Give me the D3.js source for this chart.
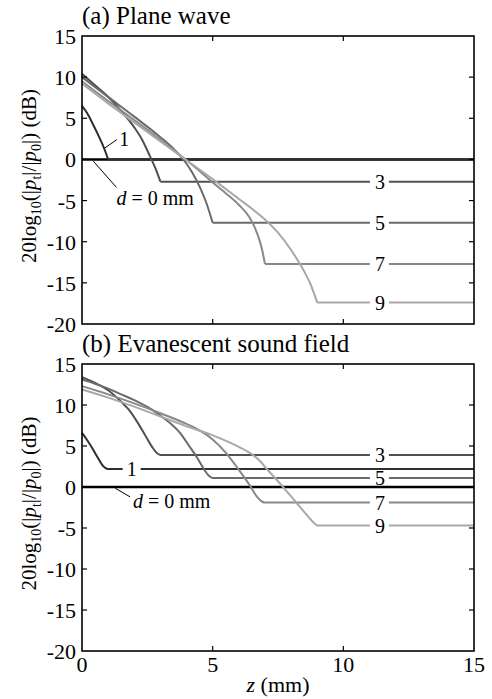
<!DOCTYPE html>
<html><head><meta charset="utf-8">
<script src="https://cdn.jsdelivr.net/npm/d3@7"></script>
<style>
html,body{margin:0;padding:0;background:#fff;}
</style></head>
<body><svg id="c" width="492" height="699" font-family="'Liberation Serif', 'Times New Roman', 'DejaVu Serif', serif"></svg>
<script>
// ---------- data ----------
const zTicks = [0, 5, 10, 15];
const yTicks = [-20, -15, -10, -5, 0, 5, 10, 15];
const depths = [0, 1, 3, 5, 7, 9];
const lineColors = ["#000000", "#2e2e2e", "#505050", "#6a6a6a", "#888888", "#a8a8a8"];

// (a) Plane wave: [z (mm), level (dB)] up to z = d; level stays flat afterwards
const planeD0 = [[0, 0]];
const planeD1 = [[0, 6.5], [0.2, 5.6], [0.4, 4.4], [0.6, 3.1], [0.8, 1.7], [0.9, 0.9], [1.0, 0]];
const planeD3 = [[0, 10.4], [0.5, 9.0], [1.0, 7.6], [1.5, 5.9], [2.0, 3.9], [2.3, 2.4], [2.6, 0.4], [2.8, -1.0], [3.0, -2.7]];
const planeD5 = [[0, 10.0], [1, 7.6], [2, 5.2], [3, 2.7], [3.5, 1.3], [3.9, -0.1], [4.2, -1.5], [4.5, -3.3], [4.75, -5.2], [5.0, -7.7]];
const planeD7 = [[0, 9.5], [1, 7.1], [2, 4.8], [3, 2.4], [4, -0.1], [4.5, -1.4], [5, -2.8], [5.5, -4.1], [6.0, -5.5], [6.4, -7.0], [6.6, -8.2], [6.8, -9.9], [6.9, -11.1], [7.0, -12.7]];
const planeD9 = [[0, 9.2], [1, 6.8], [2, 4.5], [3, 2.2], [4, -0.1], [5, -2.4], [6, -4.8], [6.5, -6.0], [7, -7.3], [7.5, -8.9], [8, -11.0], [8.5, -13.6], [8.75, -15.2], [9.0, -17.4]];

// (b) Evanescent sound field
const evanD0 = [[0, 0]];
const evanD1 = [[0, 6.6], [0.2, 5.7], [0.4, 4.7], [0.6, 3.6], [0.75, 2.8], [0.9, 2.3], [1.0, 2.2]];
const evanD3 = [[0, 13.4], [0.5, 12.7], [1.0, 11.8], [1.5, 10.4], [1.8, 9.4], [2.1, 8.0], [2.4, 6.4], [2.7, 4.8], [2.9, 4.05], [3.0, 3.9]];
const evanD5 = [[0, 13.1], [0.5, 12.6], [1, 12.0], [1.5, 11.3], [2, 10.6], [2.6, 9.6], [3, 8.7], [3.4, 7.7], [3.75, 6.6], [4.1, 5.0], [4.4, 3.6], [4.7, 2.0], [4.9, 1.25], [5.0, 1.1]];
const evanD7 = [[0, 12.3], [1, 11.3], [2, 10.2], [3, 9.0], [4, 7.7], [4.5, 6.9], [5, 5.8], [5.5, 4.2], [6, 2.1], [6.4, 0.3], [6.7, -1.2], [6.9, -1.8], [7.0, -1.9]];
const evanD9 = [[0, 11.9], [1, 10.9], [2, 9.8], [3, 8.6], [4, 7.4], [5, 6.3], [6, 4.9], [6.5, 4.0], [6.8, 3.2], [7.1, 2.1], [7.5, 0.7], [7.8, -0.4], [8.2, -1.9], [8.6, -3.4], [8.85, -4.3], [9.0, -4.7]];

const panels = [
  {title: "(a) Plane wave", curves: [planeD0, planeD1, planeD3, planeD5, planeD7, planeD9], top: 36, bottom: 324, xLabels: false, evanescent: false},
  {title: "(b) Evanescent sound field", curves: [evanD0, evanD1, evanD3, evanD5, evanD7, evanD9], top: 364, bottom: 651, xLabels: true, evanescent: true}
];

// ---------- drawing ----------
const svg = d3.select("#c");
const FONT = "'Liberation Serif', 'Times New Roman', 'DejaVu Serif', serif";
const x = d3.scaleLinear().domain([0, 15]).range([82, 474]);
const labelZ = 11.4;

function txt(g, size) {
  return g.append("text").attr("font-family", FONT).attr("font-size", size).attr("fill", "#000");
}

panels.forEach(p => {
  const y = d3.scaleLinear().domain([-20, 15]).range([p.bottom, p.top]);
  const g = svg.append("g");

  // title
  txt(g, 25).attr("x", x(0)).attr("y", p.top - 12).text(p.title);

  // curves
  const smooth = d3.line().x(d => x(d[0])).y(d => y(d[1])).curve(d3.curveMonotoneX);
  const straight = d3.line().x(d => x(d[0])).y(d => y(d[1]));
  p.curves.forEach((c, i) => {
    const last = c[c.length - 1];
    const w = i === 0 ? 2.6 : 2;
    if (p.evanescent) {
      g.append("path").attr("d", smooth(c.concat([[15, last[1]]]))).attr("fill", "none")
        .attr("stroke", lineColors[i]).attr("stroke-width", w).attr("stroke-linejoin", "round");
    } else {
      if (c.length > 1) {
        g.append("path").attr("d", smooth(c)).attr("fill", "none")
          .attr("stroke", lineColors[i]).attr("stroke-width", w).attr("stroke-linejoin", "round");
      }
      g.append("path").attr("d", straight([last, [15, last[1]]]))
        .attr("fill", "none").attr("stroke", lineColors[i]).attr("stroke-width", w);
    }
  });

  // right-hand labels for d = 3..9
  p.curves.forEach((c, i) => {
    if (depths[i] < 3) return;
    const lv = c[c.length - 1][1];
    g.append("rect").attr("x", x(labelZ) - 10).attr("y", y(lv) - 4).attr("width", 19).attr("height", 8).attr("fill", "#fff");
    txt(g, 20).attr("x", x(labelZ)).attr("y", y(lv) + 7).attr("text-anchor", "middle").text(depths[i]);
  });

  // label for d = 1
  const c1 = p.curves[1];
  const lv1 = c1[c1.length - 1][1];
  if (p.evanescent) {
    const zl = 1.9;
    g.append("rect").attr("x", x(zl) - 9).attr("y", y(lv1) - 4).attr("width", 18).attr("height", 8).attr("fill", "#fff");
    txt(g, 20).attr("x", x(zl)).attr("y", y(lv1) + 7).attr("text-anchor", "middle").text("1");
  } else {
    g.append("line").attr("x1", x(0.88)).attr("y1", y(1.4)).attr("x2", x(1.33)).attr("y2", y(2.4))
      .attr("stroke", "#000").attr("stroke-width", 1);
    txt(g, 20).attr("x", x(1.62)).attr("y", y(1.6)).attr("text-anchor", "middle").text("1");
  }

  // label for d = 0
  const d0x = p.evanescent ? [1.27, 1.84] : [0.43, 1.32];
  const d0y = p.evanescent ? [-0.15, -1.2] : [-0.2, -3.4];
  g.append("line").attr("x1", x(d0x[0])).attr("y1", y(d0y[0])).attr("x2", x(d0x[1])).attr("y2", y(d0y[1]))
    .attr("stroke", "#000").attr("stroke-width", 1);
  const t0 = txt(g, 20).attr("x", x(p.evanescent ? 1.95 : 1.32)).attr("y", y(p.evanescent ? -2.55 : -5.5));
  t0.append("tspan").attr("font-style", "italic").text("d");
  t0.append("tspan").text(" = 0 mm");

  // frame
  g.append("rect").attr("x", x(0)).attr("y", p.top).attr("width", x(15) - x(0)).attr("height", p.bottom - p.top)
    .attr("fill", "none").attr("stroke", "#000").attr("stroke-width", 1.6);

  // ticks (inward, on all sides)
  const tl = 5;
  zTicks.slice(1, -1).forEach(t => {
    g.append("line").attr("x1", x(t)).attr("x2", x(t)).attr("y1", p.bottom).attr("y2", p.bottom - tl).attr("stroke", "#000").attr("stroke-width", 1.2);
    g.append("line").attr("x1", x(t)).attr("x2", x(t)).attr("y1", p.top).attr("y2", p.top + tl).attr("stroke", "#000").attr("stroke-width", 1.2);
  });
  yTicks.slice(1, -1).forEach(t => {
    g.append("line").attr("x1", x(0)).attr("x2", x(0) + tl).attr("y1", y(t)).attr("y2", y(t)).attr("stroke", "#000").attr("stroke-width", 1.2);
    g.append("line").attr("x1", x(15)).attr("x2", x(15) - tl).attr("y1", y(t)).attr("y2", y(t)).attr("stroke", "#000").attr("stroke-width", 1.2);
  });

  // y tick labels
  yTicks.forEach(t => {
    txt(g, 22).attr("x", x(0) - 6).attr("y", y(t) + 8).attr("text-anchor", "end")
      .text(t < 0 ? "-" + Math.abs(t) : t);
  });

  // x tick labels
  if (p.xLabels) {
    zTicks.forEach(t => {
      txt(g, 22).attr("x", x(t)).attr("y", p.bottom + 21).attr("text-anchor", "middle").text(t);
    });
    const xl = txt(g, 22).attr("x", x(7.5)).attr("y", p.bottom + 41).attr("text-anchor", "middle");
    xl.append("tspan").attr("font-style", "italic").text("z");
    xl.append("tspan").text(" (mm)");
  }

  // y axis label
  const yl = txt(g, 21).attr("transform", `translate(36,${(p.top + p.bottom) / 2 - 4}) rotate(-90)`)
    .attr("text-anchor", "middle");
  yl.append("tspan").text("20log");
  yl.append("tspan").attr("font-size", 14).attr("dy", 5).text("10");
  yl.append("tspan").attr("dy", -5).text("(|");
  yl.append("tspan").attr("font-style", "italic").text("p");
  yl.append("tspan").attr("font-size", 14).attr("dy", 5).text("t");
  yl.append("tspan").attr("dy", -5).text("|/|");
  yl.append("tspan").attr("font-style", "italic").text("p");
  yl.append("tspan").attr("font-size", 14).attr("dy", 5).text("0");
  yl.append("tspan").attr("dy", -5).text("|) (dB)");
});
</script></body></html>
